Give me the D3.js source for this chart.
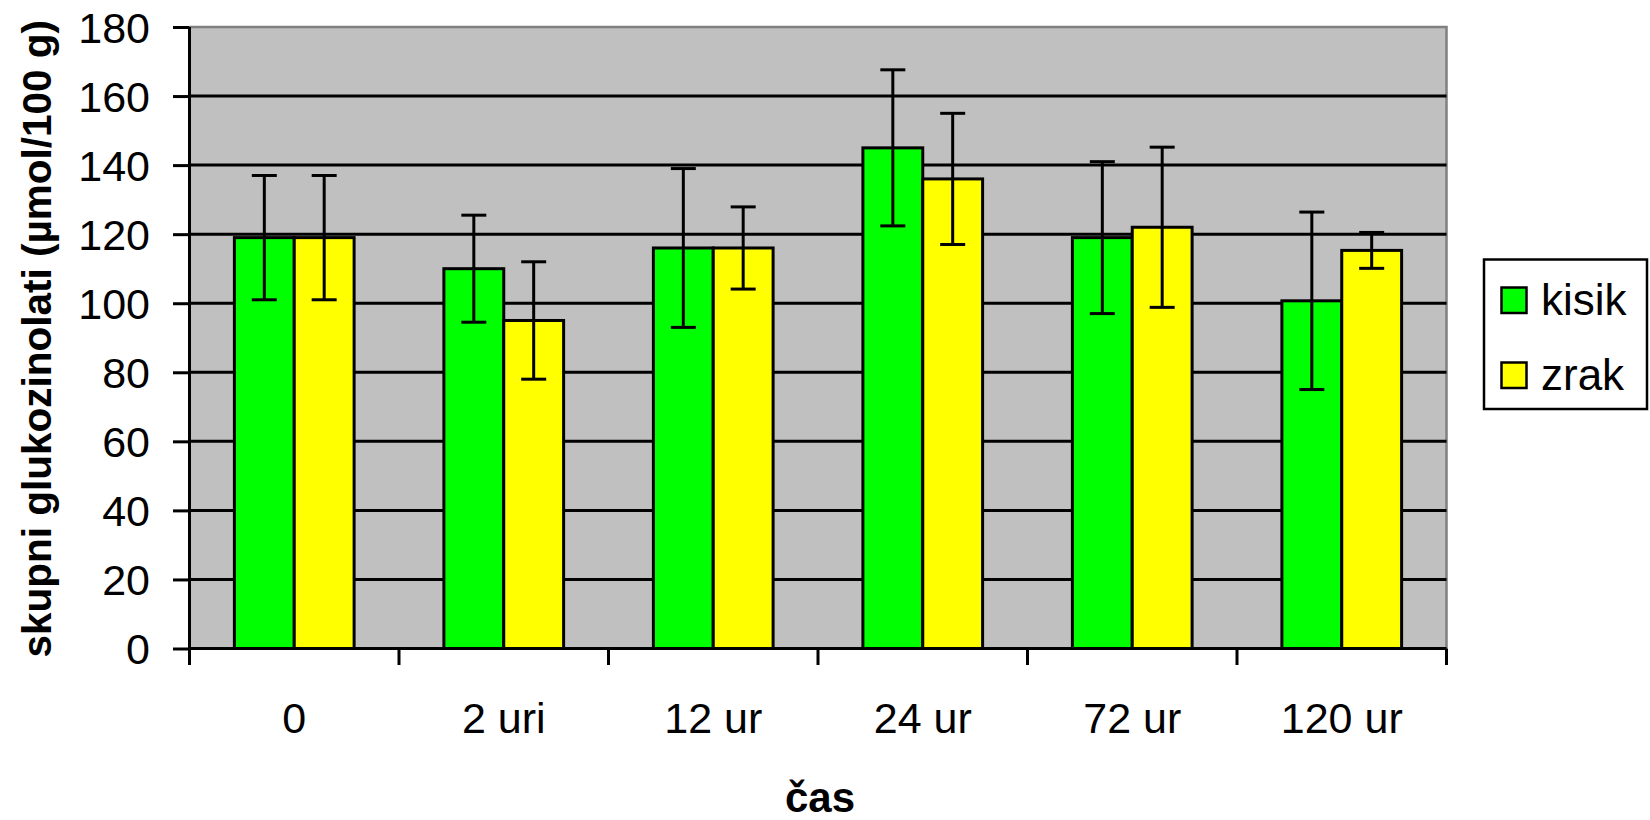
<!DOCTYPE html>
<html>
<head>
<meta charset="utf-8">
<script src="https://cdn.jsdelivr.net/npm/d3@7"></script>
<style>
  html, body { margin: 0; padding: 0; background: #fff; }
  svg { display: block; }
  text { font-family: "Liberation Sans", Arial, sans-serif; fill: #000; }
</style>
</head>
<body>
<svg id="chart" width="1650" height="820"></svg>
<script>
// Total glucosinolates over storage time, two atmospheres
const categories = ["0", "2 uri", "12 ur", "24 ur", "72 ur", "120 ur"];
const seriesNames = ["kisik", "zrak"];
const kisik = [119, 110, 116, 145, 119, 100.7];
const kisikErr = [18, 15.5, 23, 22.6, 22, 25.7];
const zrak = [119, 95, 116, 136, 122, 115.3];
const zrakErr = [18, 17, 11.9, 19, 23.2, 5.2];
const yTicks = [0, 20, 40, 60, 80, 100, 120, 140, 160, 180];
const seriesColors = ["#00FF00", "#FFFF00"];

const svg = d3.select("#chart");

const plot = { left: 189.5, right: 1446.5, top: 27, bottom: 648.5 };

const y = d3.scaleLinear().domain([0, 180]).range([plot.bottom, plot.top]);

// gap width of 1.5 bar widths between groups
const gapRatio = 1.5 / 3.5;
const x0 = d3.scaleBand()
  .domain(categories)
  .range([plot.left, plot.right])
  .paddingInner(gapRatio)
  .paddingOuter(gapRatio / 2);
const x1 = d3.scaleBand()
  .domain(seriesNames)
  .range([0, x0.bandwidth()]);

const rows = categories.map((c, i) => ({
  cat: c,
  values: [
    { name: "kisik", v: kisik[i], e: kisikErr[i], color: seriesColors[0] },
    { name: "zrak", v: zrak[i], e: zrakErr[i], color: seriesColors[1] }
  ]
}));

// plot background
svg.append("rect")
  .attr("x", plot.left).attr("y", plot.top)
  .attr("width", plot.right - plot.left)
  .attr("height", plot.bottom - plot.top)
  .attr("fill", "#C0C0C0");

// top and right frame
svg.append("path")
  .attr("d", `M${plot.left},${plot.top}H${plot.right}V${plot.bottom}`)
  .attr("fill", "none")
  .attr("stroke", "#808080")
  .attr("stroke-width", 2.5);

// horizontal gridlines
svg.append("g")
  .selectAll("line")
  .data(yTicks.filter(t => t > 0 && t < 180))
  .join("line")
  .attr("x1", plot.left).attr("x2", plot.right)
  .attr("y1", d => y(d)).attr("y2", d => y(d))
  .attr("stroke", "#000").attr("stroke-width", 3);

// bars
const groups = svg.append("g")
  .selectAll("g")
  .data(rows)
  .join("g")
  .attr("transform", d => `translate(${x0(d.cat)},0)`);

groups.selectAll("rect")
  .data(d => d.values)
  .join("rect")
  .attr("x", d => x1(d.name))
  .attr("y", d => y(d.v))
  .attr("width", x1.bandwidth())
  .attr("height", d => y(0) - y(d.v))
  .attr("fill", d => d.color)
  .attr("stroke", "#000")
  .attr("stroke-width", 3);

// error bars
const capHalf = 12.5;
const err = groups.selectAll("g.err")
  .data(d => d.values)
  .join("g")
  .attr("class", "err")
  .attr("stroke", "#000")
  .attr("stroke-width", 3);
err.append("line")
  .attr("x1", d => x1(d.name) + x1.bandwidth() / 2)
  .attr("x2", d => x1(d.name) + x1.bandwidth() / 2)
  .attr("y1", d => y(d.v + d.e))
  .attr("y2", d => y(d.v - d.e));
err.append("line")
  .attr("x1", d => x1(d.name) + x1.bandwidth() / 2 - capHalf)
  .attr("x2", d => x1(d.name) + x1.bandwidth() / 2 + capHalf)
  .attr("y1", d => y(d.v + d.e))
  .attr("y2", d => y(d.v + d.e));
err.append("line")
  .attr("x1", d => x1(d.name) + x1.bandwidth() / 2 - capHalf)
  .attr("x2", d => x1(d.name) + x1.bandwidth() / 2 + capHalf)
  .attr("y1", d => y(d.v - d.e))
  .attr("y2", d => y(d.v - d.e));

// y axis
const yAxis = svg.append("g")
  .attr("transform", `translate(${plot.left},0)`)
  .call(d3.axisLeft(y).tickValues(yTicks).tickSize(16.5).tickPadding(23).tickSizeOuter(0));
yAxis.select(".domain").attr("stroke", "#000").attr("stroke-width", 3)
  .attr("d", `M0,${plot.top}V${plot.bottom}`);
yAxis.selectAll(".tick line").attr("stroke", "#000").attr("stroke-width", 3);
yAxis.selectAll(".tick text")
  .attr("font-size", 43)
  .attr("font-family", "'Liberation Sans', Arial, sans-serif")
  .attr("dy", "0.36em");

// x axis: line with ticks at group boundaries
const step = x0.step();
const boundaries = d3.range(categories.length + 1).map(i => plot.left + i * step);
const xAxis = svg.append("g");
xAxis.append("line")
  .attr("x1", plot.left).attr("x2", plot.right)
  .attr("y1", plot.bottom).attr("y2", plot.bottom)
  .attr("stroke", "#000").attr("stroke-width", 3);
xAxis.selectAll("line.tick")
  .data(boundaries)
  .join("line")
  .attr("class", "tick")
  .attr("x1", d => d).attr("x2", d => d)
  .attr("y1", plot.bottom).attr("y2", plot.bottom + 16.5)
  .attr("stroke", "#000").attr("stroke-width", 3);
xAxis.selectAll("text")
  .data(categories)
  .join("text")
  .attr("x", d => x0(d) + x0.bandwidth() / 2)
  .attr("y", 733)
  .attr("text-anchor", "middle")
  .attr("font-size", 43)
  .text(d => d);

// axis titles
svg.append("text")
  .attr("transform", `translate(51,${(plot.top + plot.bottom) / 2 + 1}) rotate(-90)`)
  .attr("text-anchor", "middle")
  .attr("font-size", 40.5)
  .attr("font-weight", "bold")
  .text("skupni glukozinolati (µmol/100 g)");

svg.append("text")
  .attr("x", (plot.left + plot.right) / 2 + 2)
  .attr("y", 812)
  .attr("text-anchor", "middle")
  .attr("font-size", 42)
  .attr("font-weight", "bold")
  .text("čas");

// legend
const legend = svg.append("g");
legend.append("rect")
  .attr("x", 1484).attr("y", 259.5)
  .attr("width", 163).attr("height", 149.5)
  .attr("fill", "#fff")
  .attr("stroke", "#000").attr("stroke-width", 2.5);
const items = legend.selectAll("g.item")
  .data(seriesNames)
  .join("g")
  .attr("class", "item")
  .attr("transform", (d, i) => `translate(0,${i * 75})`);
items.append("rect")
  .attr("x", 1501.5).attr("y", 287.5)
  .attr("width", 25).attr("height", 25.5)
  .attr("fill", (d, i) => seriesColors[i])
  .attr("stroke", "#000").attr("stroke-width", 2.5);
items.append("text")
  .attr("x", 1541)
  .attr("y", 315)
  .attr("font-size", 44)
  .text(d => d);
</script>
</body>
</html>
